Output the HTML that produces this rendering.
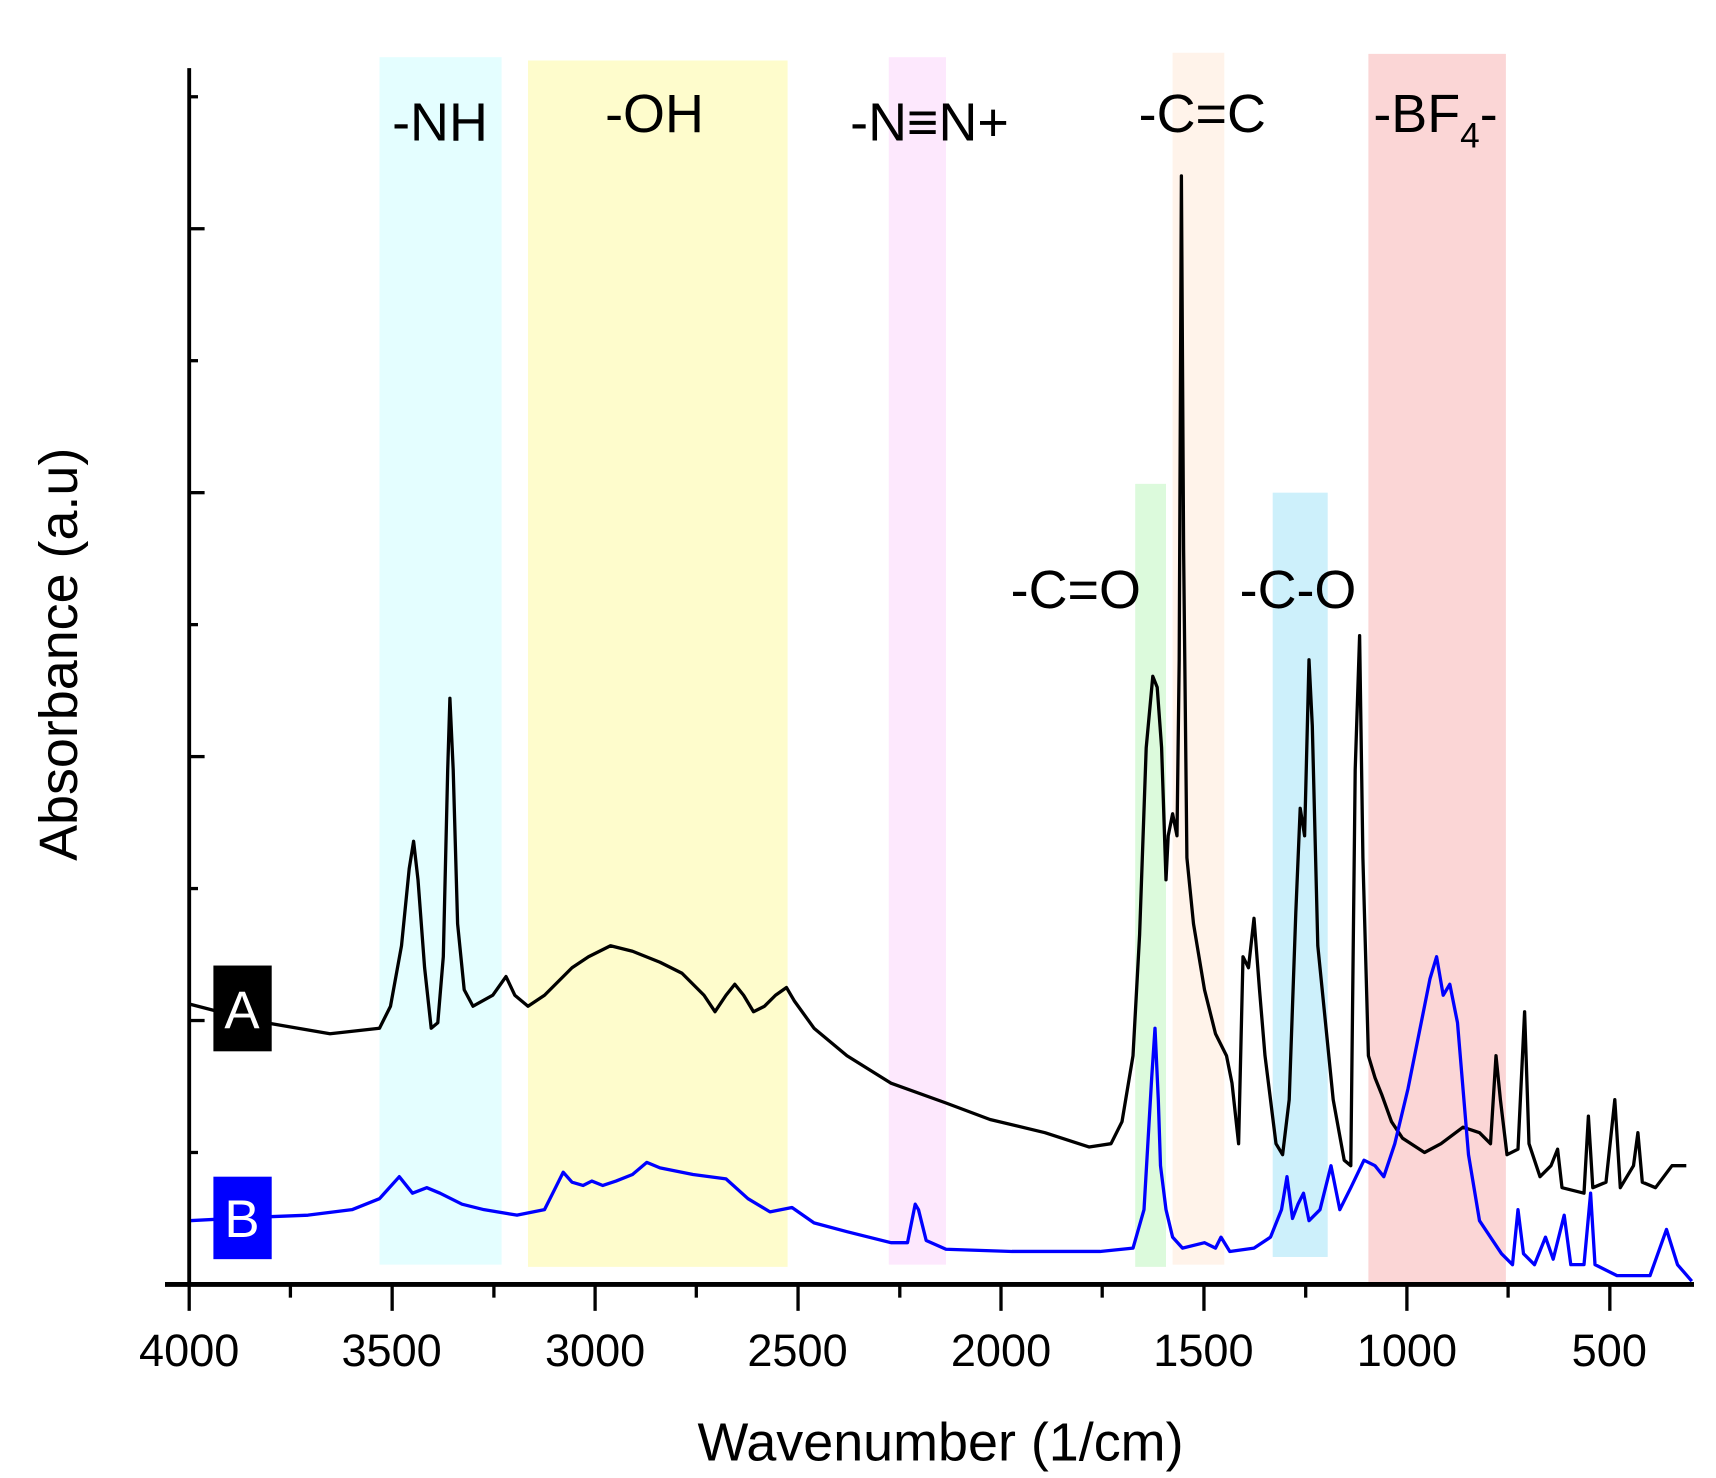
<!DOCTYPE html>
<html><head><meta charset="utf-8"><style>
html,body{margin:0;padding:0;background:#fff;}
svg{display:block;}
text{font-family:"Liberation Sans",Arial,sans-serif;}
</style></head><body>
<svg width="1716" height="1478" viewBox="0 0 1560 1344" preserveAspectRatio="none" xmlns="http://www.w3.org/2000/svg">
<rect width="1560" height="1344" fill="#fff"/>
<rect x="345" y="52" width="111" height="1098" fill="#e4feff"/>
<rect x="480" y="55" width="236" height="1097" fill="#fefccc"/>
<rect x="808" y="52" width="52" height="1098" fill="#fde8fd"/>
<rect x="1032" y="440" width="28" height="712" fill="#dcfadc"/>
<rect x="1066" y="48" width="47" height="1102" fill="#fff3ea"/>
<rect x="1157" y="448" width="50" height="695" fill="#cdf0fb"/>
<rect x="1244" y="49" width="125" height="1119" fill="#fbd6d6"/>
<g font-size="49" fill="#000" text-anchor="middle">
<text x="400" y="128">-NH</text>
<text x="595" y="120">-OH</text>
<text x="845" y="128">-N≡N+</text>
<text x="1093" y="120">-C=C</text>
<text x="1305" y="120">-BF<tspan font-size="32" dy="14">4</tspan><tspan dy="-14">-</tspan></text>
<text x="978" y="553">-C=O</text>
<text x="1180" y="553">-C-O</text>
</g>
<polyline fill="none" stroke="#000" stroke-width="3" stroke-linejoin="round" points="172,913 230,928 300,940 345,935 355,915 365,860 372,790 376,765 380,800 386,880 392,935 398,930 403,870 407,700 409,635 412,700 416,840 422,900 430,915 448,905 460,888 468,905 480,915 495,905 520,880 535,870 555,860 575,865 600,875 620,885 640,905 650,920 660,905 668,895 676,905 685,920 695,915 705,905 715,898 722,910 740,935 770,960 810,985 860,1003 900,1018 950,1030 990,1043 1010,1040 1020,1020 1030,960 1036,850 1042,680 1048,615 1052,625 1056,680 1060,800 1062,760 1066,740 1070,760 1072,600 1074,160 1076,500 1079,780 1085,840 1095,900 1105,940 1115,960 1120,985 1126,1040 1130,870 1135,880 1140,835 1145,900 1150,960 1160,1040 1166,1050 1172,1000 1178,830 1182,735 1186,760 1190,600 1193,660 1198,860 1205,930 1212,1000 1222,1055 1228,1060 1232,700 1236,578 1239,780 1244,960 1250,980 1256,995 1265,1020 1275,1035 1295,1048 1310,1040 1330,1025 1345,1030 1355,1040 1360,960 1364,1000 1370,1050 1380,1045 1386,920 1390,1040 1400,1070 1410,1060 1416,1045 1420,1080 1440,1085 1444,1015 1448,1080 1460,1075 1468,1000 1473,1080 1485,1060 1489,1030 1493,1075 1505,1080 1520,1060 1533,1060"/>
<polyline fill="none" stroke="#0000ff" stroke-width="3" stroke-linejoin="round" points="172,1110 230,1107 280,1105 320,1100 345,1090 363,1070 375,1085 388,1080 400,1085 420,1095 440,1100 470,1105 495,1100 505,1080 512,1066 520,1075 530,1078 538,1074 548,1078 560,1074 575,1068 588,1057 600,1062 630,1068 660,1072 680,1090 700,1102 720,1098 740,1112 770,1120 810,1130 825,1130 832,1095 835,1100 842,1128 860,1136 920,1138 1000,1138 1030,1135 1040,1100 1047,980 1050,935 1053,1000 1055,1060 1060,1100 1066,1125 1075,1135 1095,1130 1105,1135 1110,1125 1118,1138 1140,1135 1155,1125 1165,1100 1170,1070 1175,1108 1180,1095 1185,1085 1190,1110 1200,1100 1210,1060 1218,1100 1228,1080 1240,1055 1250,1060 1258,1070 1268,1040 1280,990 1290,940 1300,890 1306,870 1312,905 1318,895 1325,930 1335,1050 1345,1110 1365,1140 1375,1150 1380,1100 1385,1140 1395,1150 1405,1125 1412,1145 1422,1105 1428,1150 1440,1150 1446,1085 1450,1150 1470,1160 1500,1160 1515,1118 1525,1150 1538,1165"/>
<rect x="194" y="878" width="53" height="78" fill="#000"/>
<text x="220" y="935" font-size="48" fill="#fff" text-anchor="middle">A</text>
<rect x="194" y="1070" width="53" height="75" fill="#0000ff"/>
<text x="220" y="1125" font-size="48" fill="#fff" text-anchor="middle">B</text>
<g stroke="#000">
<line x1="172" y1="62" x2="172" y2="1170" stroke-width="3.5"/>
<line x1="150" y1="1168" x2="1540" y2="1168" stroke-width="4.5"/>
<g stroke-width="3">
<line x1="172" y1="928" x2="186" y2="928"/><line x1="172" y1="688" x2="186" y2="688"/><line x1="172" y1="448" x2="186" y2="448"/><line x1="172" y1="208" x2="186" y2="208"/>
<line x1="172" y1="1048" x2="180" y2="1048"/><line x1="172" y1="808" x2="180" y2="808"/><line x1="172" y1="568" x2="180" y2="568"/><line x1="172" y1="328" x2="180" y2="328"/><line x1="172" y1="88" x2="180" y2="88"/>
<line x1="172" y1="1168" x2="172" y2="1192"/><line x1="356.5" y1="1168" x2="356.5" y2="1192"/><line x1="541" y1="1168" x2="541" y2="1192"/><line x1="725.5" y1="1168" x2="725.5" y2="1192"/><line x1="910" y1="1168" x2="910" y2="1192"/><line x1="1094.5" y1="1168" x2="1094.5" y2="1192"/><line x1="1279" y1="1168" x2="1279" y2="1192"/><line x1="1463.5" y1="1168" x2="1463.5" y2="1192"/>
<line x1="264" y1="1168" x2="264" y2="1180"/><line x1="449" y1="1168" x2="449" y2="1180"/><line x1="633" y1="1168" x2="633" y2="1180"/><line x1="818" y1="1168" x2="818" y2="1180"/><line x1="1002" y1="1168" x2="1002" y2="1180"/><line x1="1187" y1="1168" x2="1187" y2="1180"/><line x1="1371" y1="1168" x2="1371" y2="1180"/>
</g></g>
<g font-size="41" text-anchor="middle" fill="#000">
<text x="172" y="1242">4000</text><text x="356" y="1242">3500</text><text x="541" y="1242">3000</text><text x="725" y="1242">2500</text><text x="910" y="1242">2000</text><text x="1094" y="1242">1500</text><text x="1279" y="1242">1000</text><text x="1463" y="1242">500</text>
</g>
<text x="855" y="1328" font-size="49" text-anchor="middle">Wavenumber (1/cm)</text>
<text transform="translate(70,595) rotate(-90)" font-size="49" text-anchor="middle">Absorbance (a.u)</text>
</svg>
</body></html>
